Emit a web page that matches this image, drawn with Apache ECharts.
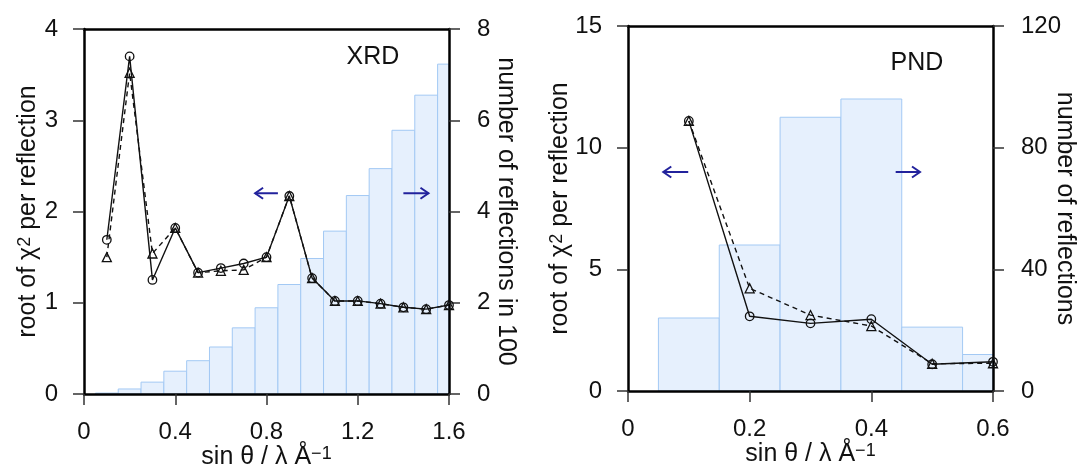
<!DOCTYPE html>
<html>
<head>
<meta charset="utf-8">
<script src="https://cdn.jsdelivr.net/npm/echarts@6/dist/echarts.min.js"></script>
<style>html,body{margin:0;padding:0;background:#fff;overflow:hidden;}#c{width:1081px;height:470px;}</style>
</head>
<body>
<div id="c"></div>
<script>
// ---------- data ----------
const xrdX = [0.1,0.2,0.3,0.4,0.5,0.6,0.7,0.8,0.9,1.0,1.1,1.2,1.3,1.4,1.5,1.6];
const xrdCircle = [1.69,3.70,1.25,1.82,1.33,1.38,1.43,1.50,2.17,1.27,1.02,1.02,0.99,0.95,0.93,0.975];
const xrdTriangle = [1.50,3.52,1.54,1.82,1.33,1.35,1.36,1.50,2.17,1.27,1.02,1.02,0.99,0.95,0.93,0.975];
const xrdCounts = [0.02,0.11,0.26,0.50,0.73,1.03,1.45,1.89,2.40,2.97,3.57,4.35,4.94,5.78,6.55,7.23]; // in 100
const xrdBinWidth = 0.1;
const xrdXTicks = [0, 1.6, 0.4];       // min, max, interval
const xrdYLeft = [0, 4, 1];
const xrdYRight = [0, 8, 2];
const xrdArrows = [[0.85, 0.75, 2.2], [1.40, 1.51, 2.2]]; // from x, to x, y

const pndX = [0.1,0.2,0.3,0.4,0.5,0.6];
const pndCircle = [11.1,3.07,2.78,2.95,1.10,1.20];
const pndTriangle = [11.1,4.22,3.12,2.67,1.12,1.14];
const pndCounts = [24,48,90,96,21,12];
const pndBinWidth = 0.1;
const pndXTicks = [0, 0.6, 0.2];
const pndYLeft = [0, 15, 5];
const pndYRight = [0, 120, 40];
const pndArrows = [[0.099, 0.058, 9.0], [0.44, 0.48, 9.0]];

const xName = 'sin θ / λ Å{sup|−1}';
const yLeftName = 'root of χ{sup|2} per reflection';
const xrdYRightName = 'number of reflections in 100';
const pndYRightName = 'number of reflections';
const xrdLabel = 'XRD';
const pndLabel = 'PND';

// ---------- styles ----------
const FF = 'Liberation Sans, Arial, Helvetica, sans-serif';
const TXT = '#111';
const nameStyle = {
  fontSize: 25, fontFamily: FF, color: TXT,
  rich: { sup: { fontSize: 18, fontFamily: FF, color: TXT, verticalAlign: 'top', padding: [0, 0, 4, 0] } }
};
const axLine = { show: true, onZero: false, lineStyle: { color: '#000', width: 2.5 } };
const axTick = { show: true, length: 11, lineStyle: { color: '#333', width: 1.5 } };
const axLabel = (m) => ({ margin: m, fontSize: 24, fontFamily: FF, color: TXT });

function pair(xs, ys) { return xs.map((x, i) => [x, ys[i]]); }

function histItem(binW) {
  return function (params, api) {
    const x = api.value(0), v = api.value(1);
    const p0 = api.coord([x - binW / 2, v]);
    const p1 = api.coord([x + binW / 2, 0]);
    const cs = params.coordSys;
    const rect = echarts.graphic.clipRectByRect(
      { x: p0[0], y: p0[1], width: p1[0] - p0[0], height: p1[1] - p0[1] },
      { x: cs.x, y: cs.y, width: cs.width, height: cs.height });
    if (!rect) return;
    return { type: 'rect', shape: rect,
      style: { fill: '#e6f0fd', stroke: '#a3c9f4', lineWidth: 1 } };
  };
}
function arrowItem(params, api) {
  const a = api.coord([api.value(0), api.value(2)]);
  const b = api.coord([api.value(1), api.value(2)]);
  const dir = Math.sign(b[0] - a[0]);
  const hl = 8, hw = 5.5;
  return { type: 'group', children: [
    { type: 'line', shape: { x1: a[0], y1: a[1], x2: b[0], y2: b[1] },
      style: { stroke: '#22229c', lineWidth: 2 } },
    { type: 'polyline', shape: { points: [[b[0] - dir * hl, b[1] - hw], [b[0], b[1]], [b[0] - dir * hl, b[1] + hw]] },
      style: { stroke: '#22229c', lineWidth: 2, fill: null } }
  ]};
}

function xAxes(g, t) {
  return [
    { gridIndex: g, type: 'value', min: t[0], max: t[1], interval: t[2], position: 'bottom',
      axisLine: axLine, axisTick: axTick, axisLabel: axLabel(26), splitLine: { show: false },
      name: xName, nameLocation: 'middle', nameGap: 51, nameMoveOverlap: false, nameTextStyle: nameStyle, z: 5 },
    { gridIndex: g, type: 'value', min: t[0], max: t[1], position: 'top',
      axisLine: axLine, axisTick: { show: false }, axisLabel: { show: false }, splitLine: { show: false }, z: 5 }
  ];
}
function yAxes(g, l, r, rName, gapL, gapR) {
  return [
    { gridIndex: g, type: 'value', min: l[0], max: l[1], interval: l[2], position: 'left',
      axisLine: axLine, axisTick: axTick, axisLabel: axLabel(26), splitLine: { show: false },
      name: yLeftName, nameLocation: 'middle', nameGap: gapL, nameMoveOverlap: false, nameTextStyle: nameStyle, z: 5 },
    { gridIndex: g, type: 'value', min: r[0], max: r[1], interval: r[2], position: 'right',
      axisLine: axLine, axisTick: axTick, axisLabel: axLabel(28), splitLine: { show: false },
      name: rName, nameLocation: 'middle', nameRotate: -90, nameGap: gapR, nameMoveOverlap: false, nameTextStyle: nameStyle, z: 5 }
  ];
}
function lineSeries(xi, yi, data, dashed, sym) {
  return { type: 'line', xAxisIndex: xi, yAxisIndex: yi, data: data,
    symbol: sym, symbolSize: dashed ? 9 : 8.5, showAllSymbol: true,
    lineStyle: { color: '#111', width: 1.4, type: dashed ? [5, 4] : 'solid' },
    itemStyle: { color: 'rgba(255,255,255,0)', borderColor: '#111', borderWidth: 1.3 },
    z: 6, silent: true };
}

const option = {
  animation: false,
  backgroundColor: '#fff',
  grid: [
    { left: 84, right: 632, top: 29, bottom: 76, outerBoundsMode: 'none', containLabel: false },
    { left: 628, right: 88, top: 26, bottom: 79, outerBoundsMode: 'none', containLabel: false }
  ],
  xAxis: [].concat(xAxes(0, xrdXTicks), xAxes(1, pndXTicks)),
  yAxis: [].concat(yAxes(0, xrdYLeft, xrdYRight, xrdYRightName, 43, 44),
                   yAxes(1, pndYLeft, pndYRight, pndYRightName, 55, 59)),
  series: [
    { type: 'custom', xAxisIndex: 0, yAxisIndex: 1, data: pair(xrdX, xrdCounts), renderItem: histItem(xrdBinWidth), z: 1, silent: true },
    lineSeries(0, 0, pair(xrdX, xrdTriangle), true, 'triangle'),
    lineSeries(0, 0, pair(xrdX, xrdCircle), false, 'circle'),
    { type: 'custom', xAxisIndex: 0, yAxisIndex: 0, data: xrdArrows, renderItem: arrowItem, z: 7, silent: true },

    { type: 'custom', xAxisIndex: 2, yAxisIndex: 3, data: pair(pndX, pndCounts), renderItem: histItem(pndBinWidth), z: 1, silent: true },
    lineSeries(2, 2, pair(pndX, pndTriangle), true, 'triangle'),
    lineSeries(2, 2, pair(pndX, pndCircle), false, 'circle'),
    { type: 'custom', xAxisIndex: 2, yAxisIndex: 2, data: pndArrows, renderItem: arrowItem, z: 7, silent: true }
  ],
  graphic: [
    { type: 'text', x: 373, y: 57, z: 10, style: { text: xrdLabel, font: '25px ' + FF, fill: TXT, align: 'center', verticalAlign: 'middle' } },
    { type: 'text', x: 917, y: 63, z: 10, style: { text: pndLabel, font: '25px ' + FF, fill: TXT, align: 'center', verticalAlign: 'middle' } }
  ]
};
const chart = echarts.init(document.getElementById('c'), null, { renderer: 'canvas', width: 1081, height: 470 });
chart.setOption(option);
</script>
</body>
</html>
